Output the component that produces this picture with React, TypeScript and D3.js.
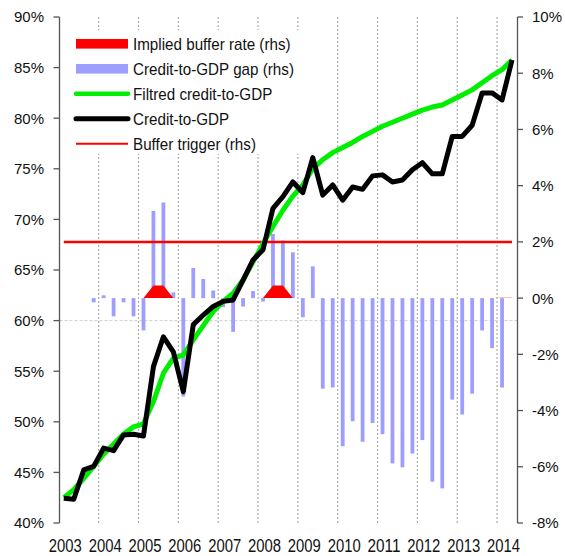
import * as d3 from 'd3';

// quarterly, 2003Q1 .. 2014Q2
const years = ['2003', '2004', '2005', '2006', '2007', '2008', '2009', '2010', '2011', '2012', '2013', '2014'];

const creditToGdp = [
  42.44, 42.34, 45.24, 45.6, 47.4, 47.15, 48.7, 48.77, 48.6, 55.45, 58.4, 56.9,
  52.97, 59.6, 60.55, 61.4, 61.9, 62.04, 64.0, 66.0, 67.0, 71.1, 72.25, 73.7,
  72.65, 76.1, 72.4, 73.4, 71.9, 73.2, 72.97, 74.3, 74.4, 73.7, 73.9, 74.9,
  75.6, 74.5, 74.5, 78.2, 78.2, 79.3, 82.5, 82.5, 81.8, 85.75,
];

const filteredCredit = [
  42.5, 43.3, 44.4, 45.6, 46.8, 47.8, 48.8, 49.5, 49.8, 52.0, 54.8, 56.3,
  56.6, 58.1, 59.5, 60.9, 61.9, 62.7, 64.0, 65.8, 67.6, 69.3, 70.9, 72.3,
  73.4, 75.0, 75.9, 76.6, 77.1, 77.6, 78.2, 78.7, 79.2, 79.6, 80.0, 80.4,
  80.8, 81.1, 81.3, 81.8, 82.3, 82.8, 83.5, 84.2, 84.8, 85.75,
];

const creditGap = [
  null, null, null, -0.15, 0.1, -0.65, -0.15, -0.65, -1.15, 3.1, 3.4, 0.2,
  -3.5, 1.07, 0.68, 0.27, -0.32, -1.2, -0.3, 0.25, -0.12, 2.28, 2.05, 1.63,
  -0.68, 1.13, -3.22, -3.18, -5.27, -4.38, -5.11, -4.44, -4.84, -5.88, -6.02, -5.53,
  -5.05, -6.53, -6.77, -3.61, -4.14, -3.4, -1.15, -1.78, -3.18, null,
];

const bufferRate = [
  0, 0, 0, 0, 0, 0, 0, 0, 0, 0.45, 0.45, 0,
  0, 0, 0, 0, 0, 0, 0, 0, 0, 0.45, 0.45, 0,
  0, 0, 0, 0, 0, 0, 0, 0, 0, 0, 0, 0,
  0, 0, 0, 0, 0, 0, 0, 0, 0.015, 0.015,
];

const bufferTrigger = 2;

const leftTicks = [40, 45, 50, 55, 60, 65, 70, 75, 80, 85, 90];
const rightTicks = [-8, -6, -4, -2, 0, 2, 4, 6, 8, 10];
const hGrid = [60];

const legendItems = [
  { label: 'Implied buffer rate (rhs)', kind: 'rect', color: '#ff0000' },
  { label: 'Credit-to-GDP gap (rhs)', kind: 'rect', color: '#9e9eff' },
  { label: 'Filtred credit-to-GDP', kind: 'line', color: '#00ee00', width: 4.5 },
  { label: 'Credit-to-GDP', kind: 'line', color: '#000000', width: 5 },
  { label: 'Buffer trigger (rhs)', kind: 'line', color: '#ff0000', width: 2 },
];

const W = 565;
const H = 556;
const axisL = 59.5;
const axisR = 517.5;
const top = 17;
const bottom = 523;
const font = '"Liberation Sans", Arial, sans-serif';

export default function App() {
  const n = creditToGdp.length;
  const x = d3.scaleLinear().domain([0, n - 1]).range([63.8, 512]);
  const yL = d3.scaleLinear().domain([40, 90]).range([bottom, top]);
  const yR = d3.scaleLinear().domain([-8, 10]).range([bottom, top]);

  const lineL = d3.line<number>().x((_, i) => x(i)).y(d => yL(d));
  const area = d3.area<number>().x((_, i) => x(i)).y0(yR(0)).y1(d => yR(d));

  const barW = 3.8;

  return (
    <div style={{ position: 'absolute', left: 0, top: 0 }}>
      <svg width={W} height={H} style={{ display: 'block', fontFamily: font }}>
        <rect width={W} height={H} fill="#fff" />

        {/* year gridlines */}
        {years.slice(1).map((y, k) => (
          <line key={y} x1={x(4 * (k + 1) - 0.5)} x2={x(4 * (k + 1) - 0.5)} y1={top} y2={bottom}
            stroke="#ababab" strokeWidth={1.2} strokeDasharray="2,2" />
        ))}
        {hGrid.map(v => (
          <line key={v} x1={axisL} x2={axisR} y1={yL(v)} y2={yL(v)}
            stroke="#cfcfcf" strokeWidth={1} strokeDasharray="3,2" />
        ))}

        {/* legend background */}
        <rect x={66} y={30} width={240} height={124} fill="#fff" />

        {/* gap bars */}
        {creditGap.map((v, i) => v == null ? null : (
          <rect key={i} x={x(i) - barW / 2} width={barW}
            y={Math.min(yR(v), yR(0))} height={Math.abs(yR(v) - yR(0))}
            fill="#9e9eff" />
        ))}

        {/* implied buffer rate */}
        <path d={area(bufferRate) ?? ''} fill="#ff0000" />

        {/* buffer trigger */}
        <line x1={x(0)} x2={x(n - 1)} y1={yR(bufferTrigger)} y2={yR(bufferTrigger)}
          stroke="#ff0000" strokeWidth={2.5} />

        <path d={lineL(filteredCredit) ?? ''} fill="none" stroke="#00ee00" strokeWidth={5} strokeLinejoin="round" />
        <path d={lineL(creditToGdp) ?? ''} fill="none" stroke="#000" strokeWidth={5} strokeLinejoin="round" />

        {/* left axis */}
        <line x1={axisL} x2={axisL} y1={top} y2={bottom} stroke="#555" strokeWidth={1.3} />
        {leftTicks.map(t => (
          <g key={t}>
            <line x1={axisL - 6} x2={axisL} y1={yL(t)} y2={yL(t)} stroke="#555" strokeWidth={1.3} />
            <text x={44} y={yL(t)} dy="0.36em" textAnchor="end" fontSize={15} fill="#111">{t}%</text>
          </g>
        ))}

        {/* right axis */}
        <line x1={axisR} x2={axisR} y1={top} y2={bottom} stroke="#555" strokeWidth={1.3} />
        {rightTicks.map(t => (
          <g key={t}>
            <line x1={axisR} x2={axisR + 5.5} y1={yR(t)} y2={yR(t)} stroke="#555" strokeWidth={1.3} />
            <text x={532} y={yR(t)} dy="0.36em" textAnchor="start" fontSize={15} fill="#111">{t}%</text>
          </g>
        ))}

        {/* year labels */}
        {years.map((y, k) => (
          <text key={y} x={x(4 * k) + 1.5} y={552} textAnchor="middle" fontSize={18}
            textLength={33} lengthAdjust="spacingAndGlyphs" fill="#111">{y}</text>
        ))}

        {/* legend */}
        {legendItems.map((it, k) => {
          const cy = 43.8 + k * 25;
          return (
            <g key={it.label}>
              {it.kind === 'rect'
                ? <rect x={76} y={cy - 4.8} width={52} height={9.6} fill={it.color} />
                : <line x1={76} x2={128} y1={cy} y2={cy} stroke={it.color} strokeWidth={it.width}
                    strokeLinecap={it.width! > 3 ? 'round' : 'butt'} />}
              <g transform={`translate(133,${cy + 5.8}) scale(0.95,1)`}>
                <text x={0} y={0} fontSize={16} fill="#111">{it.label}</text>
              </g>
            </g>
          );
        })}
      </svg>
    </div>
  );
}
